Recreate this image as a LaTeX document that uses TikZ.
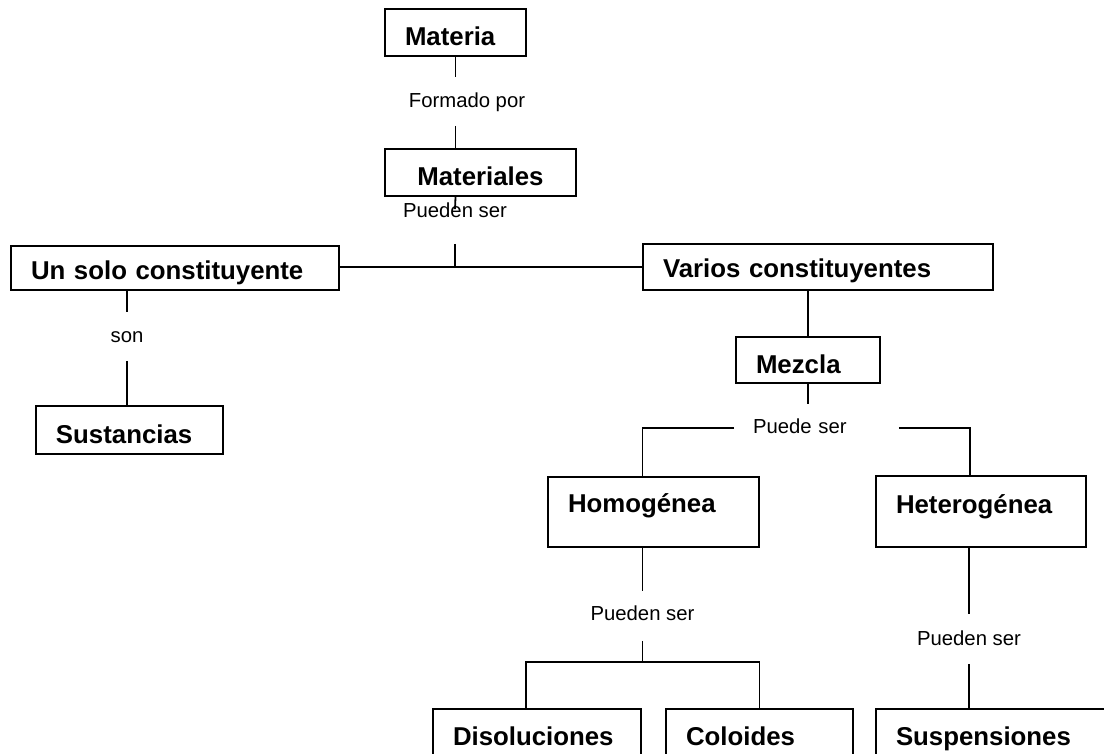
\documentclass[tikz,border=0pt]{standalone}
\usepackage{fontspec}
\setmainfont{Liberation Sans}
\usetikzlibrary{positioning}
\newcommand{\boxfont}{\fontsize{25.8}{30}\selectfont\bfseries}
\newcommand{\lblfont}{\fontsize{20.3}{24}\selectfont}

\begin{document}
\begin{tikzpicture}[
    x=1pt, y=-1pt, line width=1.8pt,
    box/.style={draw, line width=2pt, anchor=north west, inner xsep=20pt, inner ysep=0pt, align=left, font=\boxfont},
    lbl/.style={anchor=base, inner sep=0pt, font=\lblfont}
]
    \clip (0,0) rectangle (1104,753);

    % Top of the map
    \node[box, text width=101pt, text height=36pt, text depth=11pt] (materia) at (384,8) {Materia};
    \node[box, text width=151pt, text height=36pt, text depth=11pt, align=center] (materiales) at (384,148) {Materiales};
    \node[lbl, text height=29pt, text depth=18pt] (formado) at (467,107) {Formado por};
    \node[lbl, text height=7pt, text depth=26pt] (pueden1) at (455,217) {Pueden ser};

    % Second level
    \node[box, text width=288pt, text height=33pt, text depth=11pt] (unsolo) at (10,245) {Un solo constituyente};
    \node[box, text width=310pt, text height=33pt, text depth=13pt] (varios) at (642,243) {Varios constituyentes};
    \node[lbl, text height=29pt, text depth=18pt] (son) at (127,342) {son};
    \node[box, text width=147pt, text height=37pt, text depth=11pt] (sustancias) at (35,405) {Sustancias};
    \node[box, text width=104pt, text height=36pt, text depth=10pt] (mezcla) at (735,336) {Mezcla};

    % Mixtures
    \node[lbl, text width=163pt, align=left, text height=28pt, text depth=18pt] (puede) at (816.5,433) {\hspace*{18pt}Puede ser};
    \node[box, text width=171pt, text height=35pt, text depth=35pt] (homogenea) at (547,476) {Homogénea};
    \node[box, text width=170pt, text height=37pt, text depth=34pt] (heterogenea) at (875,475) {Heterogénea};
    \node[lbl, text height=28pt, text depth=20pt] (pueden2) at (642.5,620) {Pueden ser};
    \node[lbl, text height=30pt, text depth=18pt] (pueden3) at (969,645) {Pueden ser};

    % Bottom row
    \node[box, text width=168pt, text height=36pt, text depth=46pt] (disoluciones) at (432,708) {Disoluciones};
    \node[box, text width=147pt, text height=36pt, text depth=46pt] (coloides) at (665,708) {Coloides};
    \node[box, text width=205pt, text height=36pt, text depth=46pt] (suspensiones) at (875,708) {Suspensiones};

    \coordinate (split1) at (455,266);
    \coordinate (split2) at (642.5,662);

    % Lines
    \draw (materia.south) -- (materia.south |- formado.north);
    \draw (materia.south |- formado.south) -- (materia.south |- materiales.north);
    \draw (materia.south |- materiales.south) -- (pueden1.north);
    \draw (pueden1.south) -- (split1);
    \draw (varios.west -| unsolo.east) -- (varios.west);
    \draw (son.north |- unsolo.south) -- (son.north);
    \draw (son.south) -- (son.south |- sustancias.north);
    \draw (mezcla.north |- varios.south) -- (mezcla.north);
    \draw (mezcla.south) -- (mezcla.south |- puede.north);
    \draw (puede.west) -| ([xshift=-11pt]homogenea.north);
    \draw (puede.east) -| ([xshift=-11pt]heterogenea.north);
    \draw (pueden2.north |- homogenea.south) -- (pueden2.north);
    \draw (pueden2.south) -- (split2);
    \draw ([xshift=-11pt]disoluciones.north) |- (split2) -| (coloides.north);
    \draw (pueden3.north |- heterogenea.south) -- (pueden3.north);
    \draw (pueden3.south) -- (pueden3.south |- suspensiones.north);
\end{tikzpicture}
\end{document}
